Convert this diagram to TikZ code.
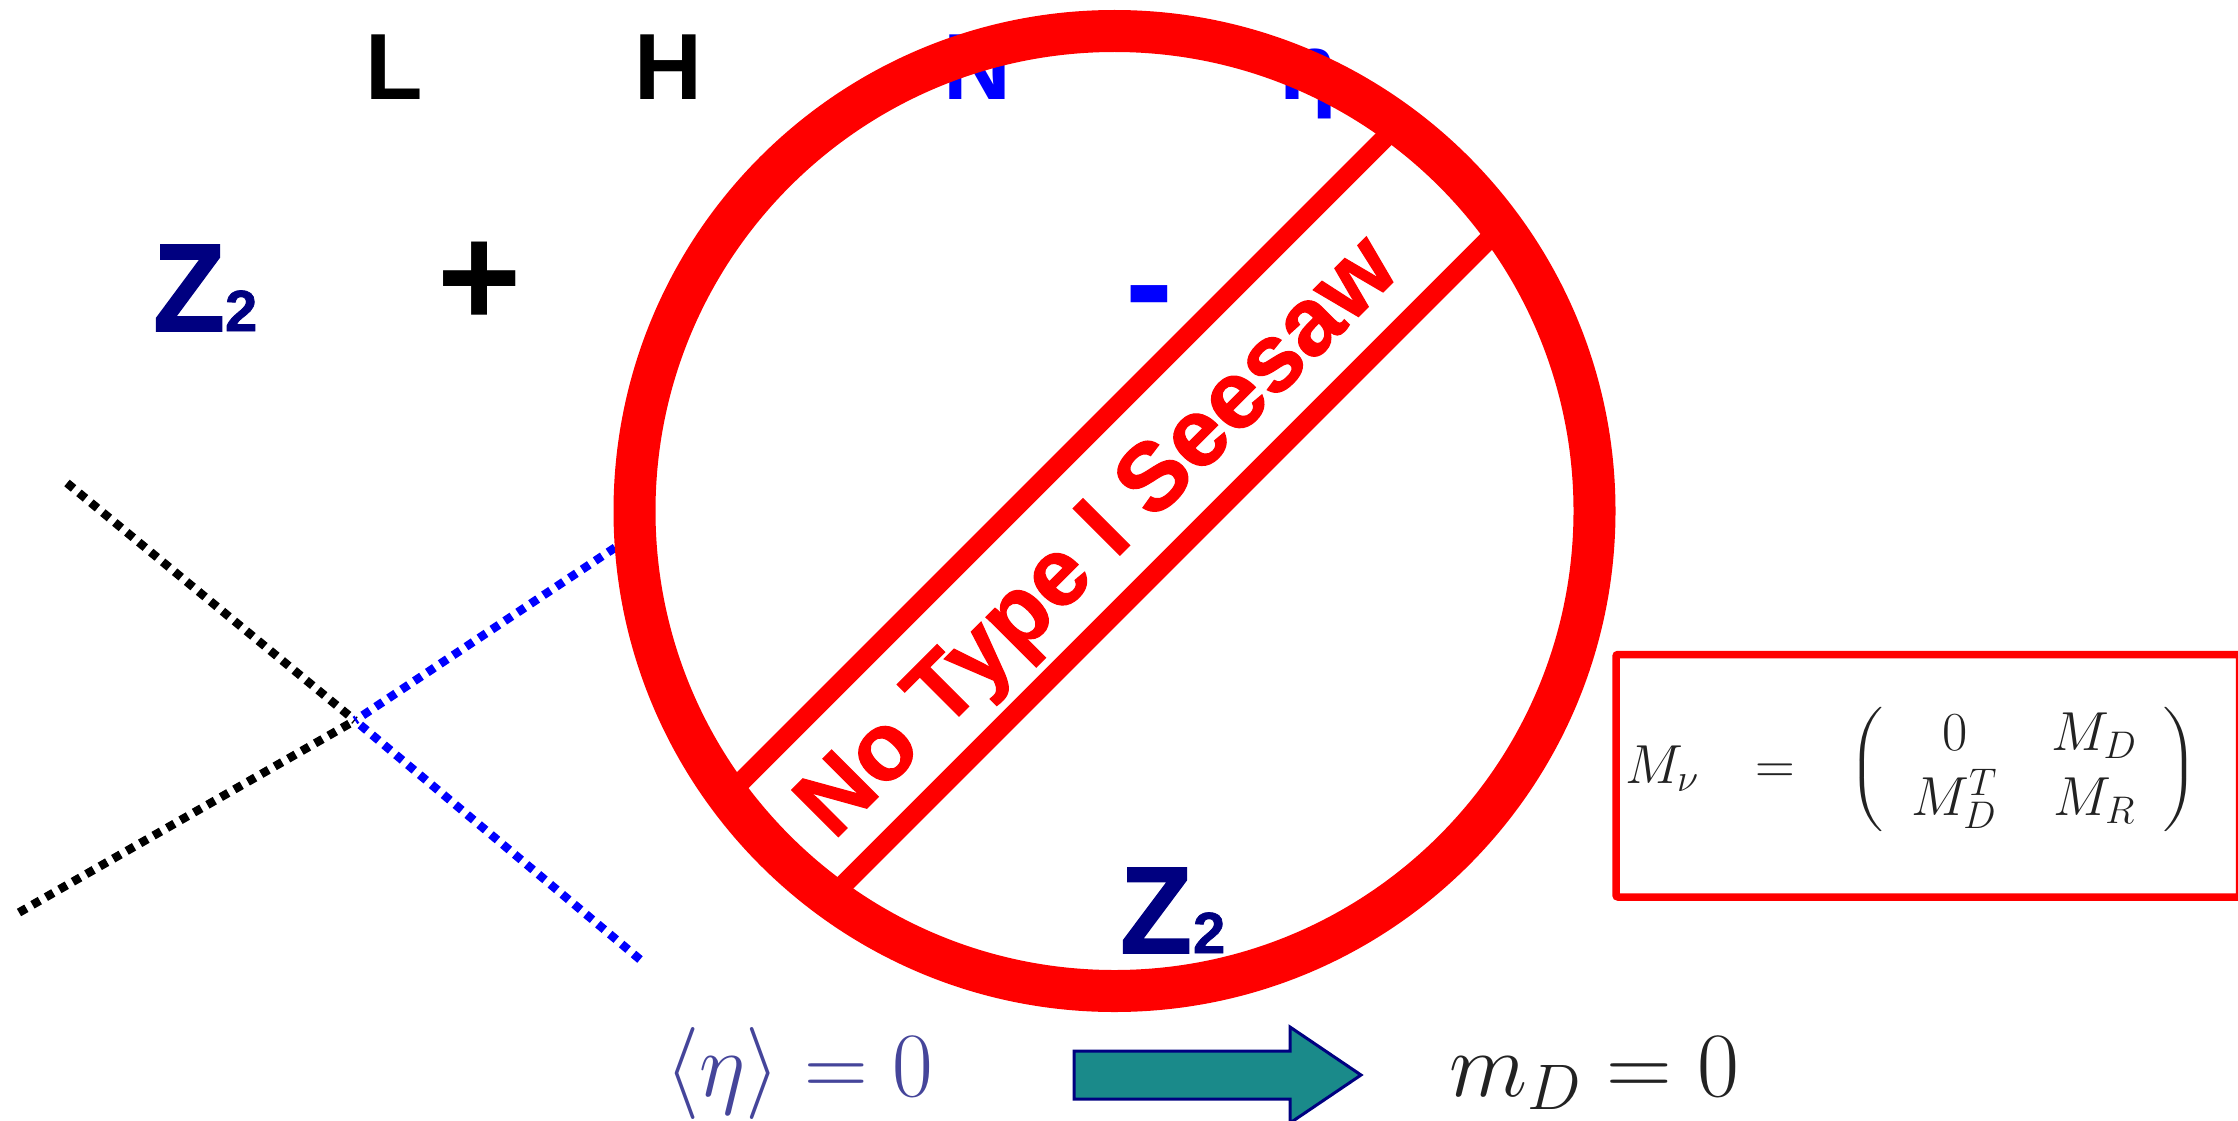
\documentclass[tikz,border=0pt]{standalone}
\usepackage{fix-cm}
\usepackage{amsmath}
\usepackage{fontspec}
\setsansfont{Liberation Sans}
\newfontfamily\heavyfont{Liberation Sans}[BoldFeatures={FakeBold=1.2}]
\definecolor{zcol}{HTML}{000080}
\definecolor{tealf}{HTML}{1A8A8A}
\definecolor{etacol}{HTML}{45459A}
\definecolor{fcol}{HTML}{222222}
\tikzset{
 lab/.style={inner sep=0pt,outer sep=0pt,anchor=base west,font=\sffamily\bfseries\fontsize{94}{100}\selectfont},
 bigz/.style={inner sep=0pt,outer sep=0pt,anchor=base west,text=zcol,font=\heavyfont\bfseries\fontsize{118}{120}\selectfont},
 subz/.style={inner sep=0pt,outer sep=0pt,anchor=base west,text=zcol,font=\heavyfont\bfseries\fontsize{58}{60}\selectfont},
 sign/.style={inner sep=0pt,outer sep=0pt,anchor=base,font=\sffamily\bfseries\fontsize{144}{150}\selectfont},
 fline/.style={line width=8.5pt,dash pattern=on 8.5pt off 7pt},
 eqn/.style={inner sep=0pt,outer sep=0pt,anchor=base west,font=\fontsize{92}{100}\selectfont},
 mat/.style={inner sep=0pt,outer sep=0pt,anchor=base,text=fcol,font=\fontsize{55}{60}\selectfont},
 paren/.style={inner sep=0pt,outer sep=0pt,anchor=center,text=fcol,font=\fontsize{55}{60}\selectfont},
 band/.style={red,line width=19.5pt},
}
\begin{document}
\begin{tikzpicture}[x=1pt,y=-1pt]
\useasboundingbox (0,0) rectangle (2238,1121);
% labels
\node[lab] (L) at (365,100) {L};
\node[lab] (H) at (634,100) {H};
\node[lab,text=blue] (N) at (943,100) {N};
\node[lab,text=blue] (eta) at (1279,100) {η};
\node[bigz] (z1) at (153,331) {\scalebox{1}[1.06]{Z}};
\node[subz] (z1s) at (225,331) {2};
\node[sign] (plus) at (480,326) {+};
\node[sign,text=blue] (minus) at (1149,331) {-};
% dotted lines
\coordinate (c) at (355,720.5);
\coordinate (a1) at (67,483);
\coordinate (a2) at (19,912.5);
\coordinate (b1) at (640,959.5);
\coordinate (b2) at (628,539);
\draw[fline,black] (a1) -- (c);
\draw[fline,black] (a2) -- (c);
\draw[fline,blue] (b1) -- (c);
\draw[fline,blue] (b2) -- (c);
% forbidden sign
\coordinate (o) at (1114.5,511);
\draw[red,line width=42pt] (o) circle (480);
\coordinate (u1) at (1398.7,124.2);
\coordinate (u2) at (727.7,795.2);
\coordinate (l1) at (1501.3,226.8);
\coordinate (l2) at (830.3,897.8);
\draw[band] (u2) -- (u1);
\draw[band] (l2) -- (l1);
\node[inner sep=0pt,outer sep=0pt,anchor=base,rotate=45,text=red,font=\heavyfont\bfseries\fontsize{96}{100}\selectfont] (nots) at (1118,557) {No Type I Seesaw};
\node[bigz] (z2) at (1120,953) {\scalebox{1}[1.05]{Z}};
\node[subz] (z2s) at (1193,953) {2};
% mass matrix box
\draw[red,line width=7.5pt,rounded corners=2pt] (1616,654.5) rectangle (2239.5,897);
\node[mat,anchor=base west] (mnu) at (1625,783) {$M_\nu$};
\node[mat] (eq) at (1775,783) {$=$};
\node[paren] (lp) at (1867,769) {\scalebox{1.6}[1.19]{$\left(\rule[-38pt]{0pt}{102pt}\right.$}};
\node[mat] (m11) at (1955,750) {$0$};
\node[mat] (m12) at (2094,750) {$M_D$};
\node[mat] (m21) at (1954,815) {$M_D^T$};
\node[mat] (m22) at (2094,815) {$M_R$};
\node[paren] (rp) at (2180,769) {\scalebox{1.6}[1.19]{$\left.\rule[-38pt]{0pt}{102pt}\right)$}};
% bottom
\node[eqn,text=etacol] (vev) at (665,1096) {\scalebox{.96}[1]{$\langle\eta\rangle=0$}};
\draw[draw=zcol,fill=tealf,line width=3pt,line join=miter] (1074,1051) -- (1290,1051) -- (1290,1027) -- (1361,1075) -- (1290,1123) -- (1290,1099) -- (1074,1099) -- cycle;
\node[eqn,text=fcol] (md) at (1449,1096) {\scalebox{.99}[1]{$m_D=0$}};
\end{tikzpicture}
\end{document}
